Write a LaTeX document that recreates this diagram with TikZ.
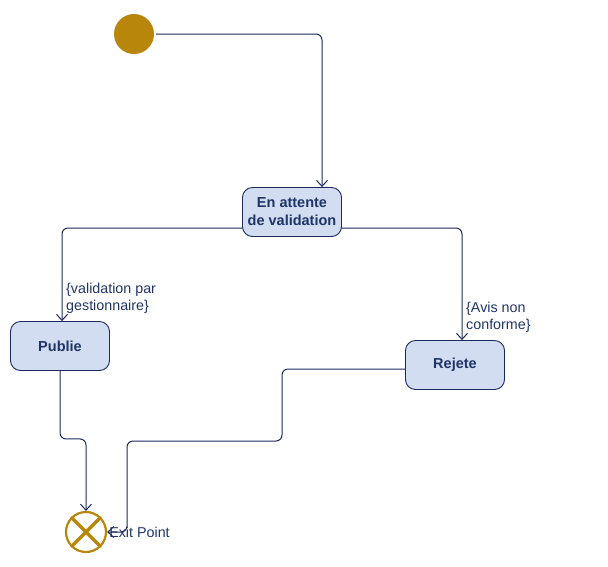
\documentclass[tikz,border=0pt]{standalone}
\usepackage{fontspec}
\setmainfont{Liberation Sans}
\usepackage{xcolor}
\usetikzlibrary{arrows.meta}

\definecolor{umlline}{HTML}{1A2A5E}
\definecolor{umlfill}{HTML}{D2DDF1}
\definecolor{umlgold}{HTML}{B8860B}
\definecolor{umltext}{HTML}{1F3569}

\begin{document}
\begin{tikzpicture}[x=1pt, y=-1pt,
  state/.style={draw=umlline, fill=umlfill, line width=0.9pt, rounded corners=10pt, align=center, minimum width=99pt, minimum height=49pt, font=\fontsize{14.5}{18}\selectfont\bfseries, text=umltext},
  guard/.style={align=left, anchor=north west, inner sep=0pt, font=\fontsize{14.3}{17}\selectfont, text=umltext},
  flow/.style={draw=umlline, line width=1pt, rounded corners=6pt, -{Straight Barb[length=6pt, width=11pt]}}]
\useasboundingbox (0,0) rectangle (608,566);
\node[circle, fill=umlgold, minimum size=40pt, inner sep=0pt] (init) at (134,34) {};
\node[state] (wait) at (292,212) {En attente\\de validation};
\node[state] (pub) at (60,346) {Publie};
\node[state] (rej) at (455,365) {Rejete};
\node[circle, draw=umlgold, line width=2.2pt, minimum size=40pt, inner sep=0pt] (exit) at (86,532) {};
\draw[umlgold, line width=3.4pt] (exit.north west) -- (exit.south east);
\draw[umlgold, line width=3.4pt] (exit.north east) -- (exit.south west);
\node[anchor=west, inner sep=0pt, font=\fontsize{14.3}{17}\selectfont, text=umltext] (exitlbl) at ([xshift=2pt]exit.east) {Exit Point};
\node[guard] (g1) at (66,283) {\{validation par\\gestionnaire\}};
\node[guard] (g2) at (466,302) {\{Avis non\\conforme\}};
\draw[flow] ([xshift=2pt]init.east) -| ([xshift=30pt]wait.north);
\draw[flow] ([yshift=-16pt]wait.west) -| ([xshift=2pt]pub.north);
\draw[flow] ([yshift=-16pt]wait.east) -| ([xshift=7pt]rej.north);
\draw[flow] (pub.south) -- ++(0,68) -| (exit.north);
\draw[flow] ([yshift=-4pt]rej.west) -| (282,441) -| (127,532) -- (exit.east);
\end{tikzpicture}
\end{document}
